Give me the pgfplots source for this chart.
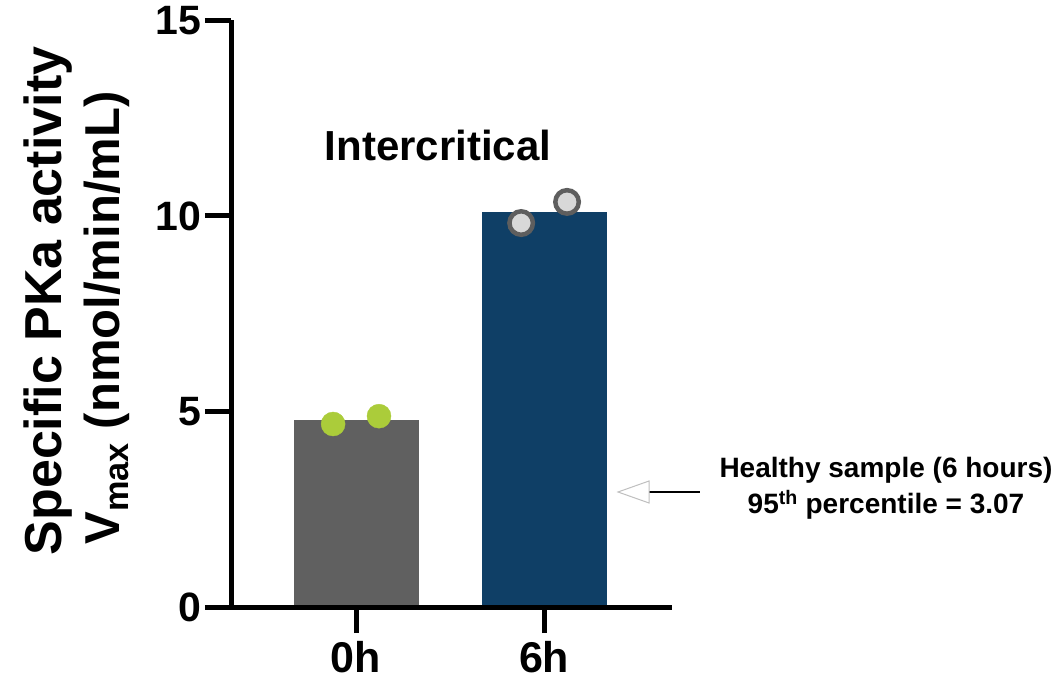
\documentclass[border=0pt]{standalone}
\usepackage{fontspec}
\setmainfont{Liberation Sans}
\usepackage{pgfplots}
\pgfplotsset{compat=1.18}
\definecolor{barGray}{HTML}{606060}
\definecolor{barBlue}{HTML}{0F3F66}
\definecolor{ptGreen}{HTML}{ABCC3A}
\definecolor{ptFill}{HTML}{D8D8D8}
\definecolor{ptEdge}{HTML}{5E5E5E}
\begin{document}
\begin{tikzpicture}[x=1pt,y=1pt]
\path[use as bounding box] (0,0) rectangle (1058,683);
\begin{axis}[
  at={(231pt,76pt)}, anchor=south west,
  scale only axis, width=441pt, height=586.5pt,
  xmin=-0.665, xmax=1.68, ymin=0, ymax=15,
  axis lines=left, axis line style={line width=5pt, -},
  axis on top,
  xtick={0,1}, xticklabels={0h,6h}, ytick={0,5,10,15},
  tick align=outside, major tick length=26pt,
  tick style={line width=5pt, black},
  clip=false,
  yticklabel style={font=\fontsize{41}{41}\selectfont\bfseries},
  xticklabel style={font=\fontsize{43}{43}\selectfont\bfseries, yshift=-5pt},
  /pgf/number format/assume math mode=true,
]
\addplot[ybar, bar width=0.665, bar shift=0, fill=barGray, draw=none] coordinates {(0,4.77)};
\addplot[ybar, bar width=0.665, bar shift=0, fill=barBlue, draw=none] coordinates {(1,10.10)};
\addplot[only marks, mark=*, mark size=12pt, color=ptGreen] coordinates {(-0.122,4.68) (0.122,4.88)};
\addplot[only marks, mark=*, mark size=11.75pt, mark options={fill=ptFill, draw=ptEdge, line width=4.5pt}] coordinates {(0.878,9.82) (1.122,10.36)};
\node[font=\fontsize{42}{42}\selectfont\bfseries] at (axis cs:0.436,11.8) {Intercritical};
\end{axis}
\node[rotate=90, anchor=base, inner sep=0pt, font=\fontsize{52}{54}\selectfont\bfseries] at (61,382) {Specific PKa activity};
\node[rotate=90, anchor=base, inner sep=0pt, font=\fontsize{49}{52}\selectfont\bfseries] at (119,365) {V\textsubscript{max} (nmol/min/mL)};
\node[align=center, font=\fontsize{28}{36}\selectfont\bfseries] at (886,195) {Healthy sample (6 hours)\\95\textsuperscript{th} percentile = 3.07};
\draw[line width=2.5pt] (647,191) -- (700,191);
\draw[black!25, fill=white, line width=1pt] (649,202) -- (618,191) -- (649,180) -- cycle;
\end{tikzpicture}
\end{document}
